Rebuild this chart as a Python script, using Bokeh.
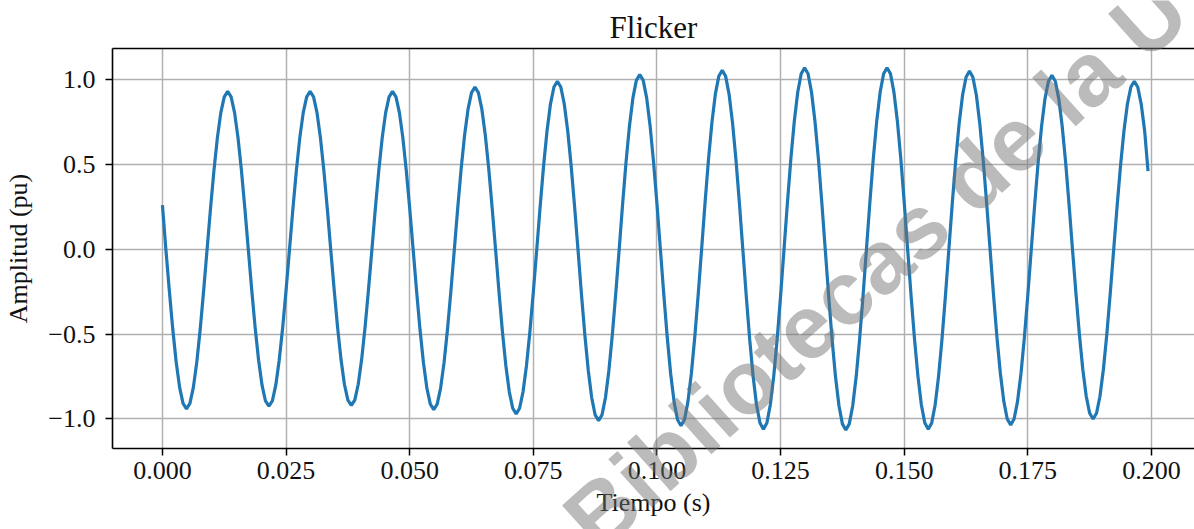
from bokeh.plotting import figure
from bokeh.layouts import column
from bokeh.models import FixedTicker, LinearAxis, Label, Range1d, ColumnDataSource
from bokeh.embed import file_html
from bokeh.resources import INLINE

# ---- data ----
sample_rate_hz = 1440  # samples per second (24 samples per 60 Hz cycle)

amplitud_pu = [
    0.26,
    0, -0.243, -0.47, -0.665, -0.814, -0.908, -0.94, -0.908, -0.814, -0.665, -0.47, -0.243,
    0, 0.241, 0.465, 0.658, 0.805, 0.898, 0.93, 0.898, 0.805, 0.658, 0.465, 0.241,
    0, -0.24, -0.463, -0.654, -0.801, -0.894, -0.925, -0.894, -0.801, -0.654, -0.463, -0.24,
    0, 0.241, 0.465, 0.658, 0.805, 0.898, 0.93, 0.898, 0.805, 0.658, 0.465, 0.241,
    0, -0.238, -0.46, -0.65, -0.797, -0.889, -0.92, -0.889, -0.797, -0.65, -0.46, -0.238,
    0, 0.241, 0.465, 0.658, 0.805, 0.898, 0.93, 0.898, 0.805, 0.658, 0.465, 0.241,
    0, -0.245, -0.473, -0.668, -0.818, -0.913, -0.945, -0.913, -0.818, -0.668, -0.473, -0.245,
    0, 0.247, 0.478, 0.675, 0.827, 0.923, 0.955, 0.923, 0.827, 0.675, 0.478, 0.247,
    0, -0.251, -0.485, -0.686, -0.84, -0.937, -0.97, -0.937, -0.84, -0.686, -0.485, -0.251,
    0, 0.256, 0.495, 0.7, 0.857, 0.956, 0.99, 0.956, 0.857, 0.7, 0.495, 0.256,
    0, -0.262, -0.505, -0.714, -0.875, -0.976, -1.01, -0.976, -0.875, -0.714, -0.505, -0.262,
    0, 0.267, 0.515, 0.728, 0.892, 0.995, 1.03, 0.995, 0.892, 0.728, 0.515, 0.267,
    0, -0.269, -0.52, -0.735, -0.901, -1.005, -1.04, -1.005, -0.901, -0.735, -0.52, -0.269,
    0, 0.273, 0.528, 0.746, 0.914, 1.019, 1.055, 1.019, 0.914, 0.746, 0.528, 0.273,
    0, -0.275, -0.53, -0.749, -0.918, -1.024, -1.06, -1.024, -0.918, -0.749, -0.53, -0.275,
    0, 0.277, 0.535, 0.756, 0.927, 1.034, 1.07, 1.034, 0.927, 0.756, 0.535, 0.277,
    0, -0.276, -0.533, -0.753, -0.922, -1.029, -1.065, -1.029, -0.922, -0.753, -0.533, -0.276,
    0, 0.277, 0.535, 0.756, 0.927, 1.034, 1.07, 1.034, 0.927, 0.756, 0.535, 0.277,
    0, -0.275, -0.53, -0.749, -0.918, -1.024, -1.06, -1.024, -0.918, -0.749, -0.53, -0.275,
    0, 0.272, 0.525, 0.742, 0.909, 1.014, 1.05, 1.014, 0.909, 0.742, 0.525, 0.272,
    0, -0.268, -0.518, -0.732, -0.896, -1.0, -1.035, -1.0, -0.896, -0.732, -0.518, -0.268,
    0, 0.265, 0.513, 0.725, 0.888, 0.99, 1.025, 0.99, 0.888, 0.725, 0.513, 0.265,
    0, -0.259, -0.5, -0.707, -0.866, -0.966, -1.0, -0.966, -0.866, -0.707, -0.5, -0.259,
    0, 0.256, 0.495, 0.7, 0.857, 0.956, 0.99, 0.956, 0.857, 0.7, 0.46,
]
tiempo_s = [i / sample_rate_hz for i in range(len(amplitud_pu))]

x_ticks = [0.0, 0.025, 0.05, 0.075, 0.1, 0.125, 0.15, 0.175, 0.2]
x_tick_labels = ["0.000", "0.025", "0.050", "0.075", "0.100", "0.125", "0.150", "0.175", "0.200"]
y_ticks = [-1.0, -0.5, 0.0, 0.5, 1.0]
y_tick_labels = ["\u22121.0", "\u22120.5", "0.0", "0.5", "1.0"]

title_text = "Flicker"
x_label = "Tiempo (s)"
y_label = "Amplitud (pu)"
watermark_text = "Bibliotecas de la U"

SERIF = "Liberation Serif"
W, H = 1194, 529

p = figure(
    width=W, height=H,
    x_range=Range1d(-0.0101, 0.2087), y_range=Range1d(-1.174, 1.183),
    output_backend="svg", toolbar_location=None,
    min_border_left=112, min_border_right=0, min_border_top=48, min_border_bottom=81,
)
p.background_fill_color = "white"
p.border_fill_color = "white"
p.outline_line_color = None

p.title.text = title_text
p.title.text_font = SERIF
p.title.text_font_size = "31px"
p.title.text_font_style = "normal"
p.title.text_color = "#111111"
p.title.align = "center"
p.title.offset = 0
p.title.standoff = 8

src = ColumnDataSource(dict(t=tiempo_s, a=amplitud_pu))
p.line("t", "a", source=src, line_color="#1f77b4", line_width=3.2)

for ax, ticks, labels in ((p.xaxis[0], x_ticks, x_tick_labels), (p.yaxis[0], y_ticks, y_tick_labels)):
    ax.ticker = FixedTicker(ticks=ticks)
    ax.major_label_overrides = {tk: lb for tk, lb in zip(ticks, labels)}
    ax.major_label_text_font = SERIF
    ax.major_label_text_font_size = "26px"
    ax.major_label_text_color = "#111111"
    ax.axis_label_text_font = SERIF
    ax.axis_label_text_font_size = "26px"
    ax.axis_label_text_font_style = "normal"
    ax.axis_label_text_color = "#111111"
    ax.axis_line_color = "black"
    ax.axis_line_width = 1.6
    ax.major_tick_line_color = "black"
    ax.major_tick_line_width = 1.5
    ax.major_tick_out = 7
    ax.major_tick_in = 0
    ax.minor_tick_line_color = None

p.xaxis.axis_label = x_label
p.yaxis.axis_label = y_label
p.xaxis.major_label_standoff = 6
p.xaxis.axis_label_standoff = 6
p.yaxis.major_label_standoff = 10
p.yaxis.axis_label_standoff = 12

top_axis = LinearAxis(ticker=FixedTicker(ticks=[]), axis_line_color="black", axis_line_width=1.6,
                      major_tick_line_color=None, minor_tick_line_color=None)
p.add_layout(top_axis, "above")

p.grid.grid_line_color = "#b0b0b0"
p.grid.grid_line_width = 1.5
p.xgrid.ticker = FixedTicker(ticks=x_ticks)
p.ygrid.ticker = FixedTicker(ticks=y_ticks)

# transparent overlay canvas (pixel coordinates, origin bottom-left) for the scan watermark,
# so that it is not clipped to the plot frame
wm_fig = figure(
    width=W, height=H, x_range=Range1d(0, W), y_range=Range1d(0, H),
    output_backend="svg", toolbar_location=None,
    x_axis_location=None, y_axis_location=None, min_border=0,
    background_fill_color=None, border_fill_color=None, outline_line_color=None,
)
wm_fig.grid.visible = False
wm_fig.margin = (-H, 0, 0, 0)
wm_fig.add_layout(Label(x=514, y=H - 532, text=watermark_text, angle=42, angle_units="deg",
                        text_font="Liberation Sans", text_font_size="90px", text_font_style="bold",
                        text_color="#707070", text_alpha=0.48,
                        text_baseline="alphabetic", text_align="left"))

layout = column(p, wm_fig, spacing=0, margin=0)

open("out.html", "w").write(file_html(layout, INLINE))
